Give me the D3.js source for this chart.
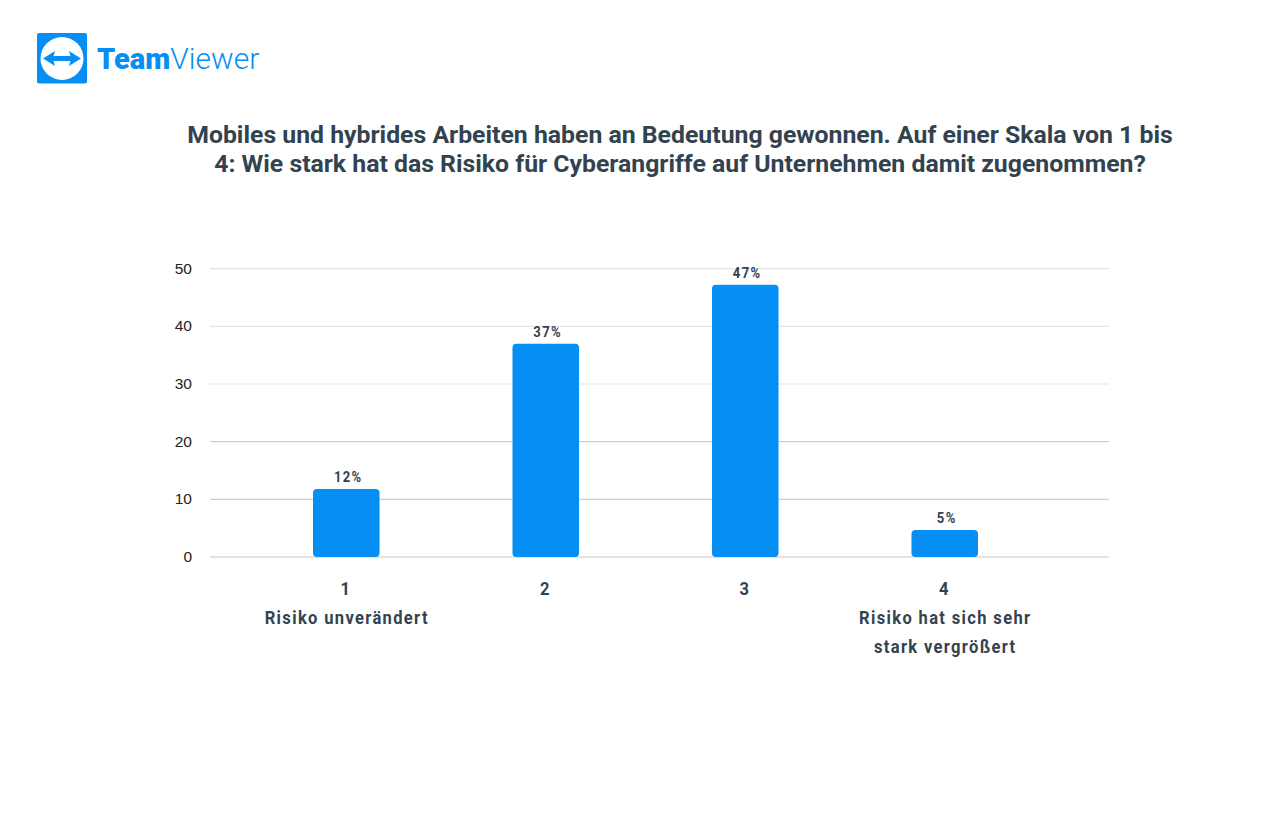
<!DOCTYPE html>
<html>
<head>
<meta charset="utf-8">
<script src="https://cdn.jsdelivr.net/npm/d3@7"></script>
<style>
html, body { margin: 0; padding: 0; background: #fff; }
svg { display: block; }
text { font-family: Roboto, sans-serif; fill: #32434f; }
.bold { font-weight: 700; }
</style>
</head>
<body>
<svg id="chart" width="1280" height="838"></svg>
<script>
const categories = ["1", "2", "3", "4"];
const values = [11.8, 37, 47.2, 4.7];
const valueLabels = ["12%", "37%", "47%", "5%"];
const yTicks = [0, 10, 20, 30, 40, 50];
const titleLines = [
    "Mobiles und hybrides Arbeiten haben an Bedeutung gewonnen. Auf einer Skala von 1 bis",
    "4: Wie stark hat das Risiko für Cyberangriffe auf Unternehmen damit zugenommen?"
];
const captions = [["Risiko unverändert"], [], [], ["Risiko hat sich sehr", "stark vergrößert"]];

const blue = "#058ff5";
const svg = d3.select("#chart");

const y = d3.scaleLinear().domain([0, 50]).range([557, 268.7]);
const x = d3.scaleBand().domain(categories).range([313, 978]).paddingInner(0.6665).paddingOuter(0);
const cx = d => x(d) + x.bandwidth() / 2;

// the reference labels are a condensed cut, squeeze Roboto to get there
const squeeze = (px, py) => `translate(${px},${py}) scale(0.87,1)`;

// logo
const logo = svg.append("g");
logo.append("rect").attr("x", 37).attr("y", 33).attr("width", 50).attr("height", 50.5).attr("rx", 2).attr("fill", blue);
logo.append("circle").attr("cx", 62).attr("cy", 58.5).attr("r", 21.5).attr("fill", "#fff");
logo.append("path").attr("fill", blue)
    .attr("d", "M43 58.5L55 51L53.5 56H70.5L69 51L81 58.5L69 66L70.5 61H53.5L55 66Z");
const logoText = logo.append("text").attr("x", 97).attr("y", 69).style("font-size", "29px").style("fill", blue);
logoText.append("tspan").attr("font-weight", 900).style("fill", blue).text("Team");
logoText.append("tspan").attr("font-weight", 300).style("font-size", "30px").style("fill", blue).text("Viewer");

// title
svg.append("g").selectAll("text").data(titleLines).join("text")
    .attr("class", "bold")
    .attr("x", 680)
    .attr("y", (d, i) => 143 + i * 29)
    .attr("text-anchor", "middle")
    .style("font-size", "24.8px")
    .text(d => d);

// grid + y axis
svg.append("g").selectAll("line").data(yTicks).join("line")
    .attr("x1", 210).attr("x2", 1109)
    .attr("y1", d => y(d)).attr("y2", d => y(d))
    .attr("stroke", d => d === 0 ? "#c8c8c8" : (d < 30 ? "#cfcfcf" : "#e4e4e4"))
    .attr("stroke-width", 1.2);
svg.append("g").selectAll("text").data(yTicks).join("text")
    .attr("x", 192)
    .attr("y", d => y(d) + 5)
    .attr("text-anchor", "end")
    .style("font-family", "'Liberation Sans', sans-serif")
    .style("font-size", "15.5px")
    .style("fill", "#222")
    .text(d => d);

// bars
svg.append("g").selectAll("rect").data(categories).join("rect")
    .attr("x", d => x(d))
    .attr("y", (d, i) => y(values[i]))
    .attr("width", x.bandwidth())
    .attr("height", (d, i) => y(0) - y(values[i]))
    .attr("rx", 4)
    .attr("fill", blue);

// value labels
svg.append("g").selectAll("text").data(categories).join("text")
    .attr("class", "bold")
    .attr("transform", (d, i) => squeeze(cx(d) + 2, y(values[i]) - 6.5))
    .attr("text-anchor", "middle")
    .style("font-size", "15px")
    .style("letter-spacing", "1.6px")
    .text((d, i) => valueLabels[i]);

// category labels
svg.append("g").selectAll("text").data(categories).join("text")
    .attr("class", "bold")
    .attr("transform", d => squeeze(cx(d) - 1, 595))
    .attr("text-anchor", "middle")
    .style("font-size", "19px")
    .text(d => d);

categories.forEach((c, i) => {
    captions[i].forEach((line, j) => {
        svg.append("text")
            .attr("class", "bold")
            .attr("transform", squeeze(cx(c) + 0.5, 623.5 + j * 29.5))
            .attr("text-anchor", "middle")
            .style("font-size", "19px")
            .style("letter-spacing", "1.55px")
            .text(line);
    });
});
</script>
</body>
</html>
